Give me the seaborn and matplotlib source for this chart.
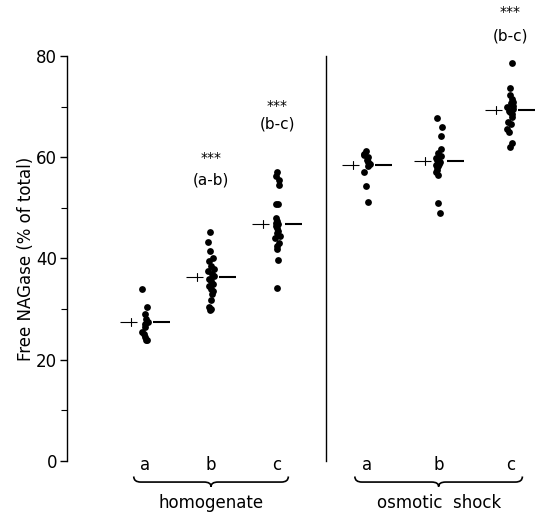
import numpy as np
import pandas as pd
import matplotlib
matplotlib.use("Agg")
import matplotlib.pyplot as plt
import seaborn as sns
from matplotlib.path import Path
from matplotlib.patches import PathPatch
from matplotlib.ticker import MultipleLocator

# Free NAGase (% of total) for each preparation
homog_a = [34.0, 30.5, 29.0, 28.0, 27.5, 27.0, 26.5, 25.5, 25.0, 24.5, 24.0, 24.0]
homog_b = [45.3, 43.2, 41.5, 40.0, 39.5, 38.5, 38.0, 37.5, 37.0, 36.5, 36.0,
           35.5, 35.0, 34.5, 34.0, 33.5, 33.0, 31.8, 30.5, 30.0, 29.8]
homog_c = [57.0, 56.3, 55.5, 54.5, 50.7, 50.7, 48.0, 47.5, 47.0, 46.8, 46.5,
           46.0, 45.5, 45.0, 44.5, 44.0, 43.0, 42.5, 41.8, 39.7, 34.2]
osm_a = [61.3, 60.6, 60.4, 60.0, 59.5, 59.0, 58.7, 58.2, 57.0, 54.3, 51.2]
osm_b = [67.8, 66.0, 64.2, 61.7, 60.8, 60.2, 59.8, 59.5, 59.2, 59.0, 58.7,
         58.5, 58.2, 58.0, 57.5, 57.0, 56.5, 51.0, 49.0]
osm_c = [78.6, 73.7, 72.3, 71.5, 71.0, 70.8, 70.5, 70.2, 70.0, 69.5, 69.2,
         69.0, 68.5, 68.0, 67.0, 66.5, 65.5, 65.0, 62.8, 62.0]

conditions = ["a", "b", "c"]
methods = ["homogenate", "osmotic  shock"]
group_means = {"homogenate": [27.5, 36.4, 46.8],
               "osmotic  shock": [58.5, 59.2, 69.3]}
# significance marks: (method, condition, comparison, height of stars, height of label)
signif = [("homogenate", "b", "(a-b)", 59.9, 55.5),
          ("homogenate", "c", "(b-c)", 70.2, 66.6),
          ("osmotic  shock", "c", "(b-c)", 88.7, 84.0)]

values = {"homogenate": [homog_a, homog_b, homog_c],
          "osmotic  shock": [osm_a, osm_b, osm_c]}
rows = []
for m in methods:
    for cond, vals in zip(conditions, values[m]):
        for v in vals:
            rows.append({"method": m, "condition": cond, "free": v})
df = pd.DataFrame(rows)

sns.set_theme(style="ticks")
plt.rcParams["font.family"] = ["DejaVu Sans"]
for key in ["text.color", "axes.labelcolor", "xtick.color", "ytick.color",
            "axes.edgecolor"]:
    plt.rcParams[key] = "black"

np.random.seed(7)

W, H = 536, 516
fig = plt.figure(figsize=(W / 100, H / 100), dpi=100)
ylo, yhi = -1.0, 81.0
bottom, height = 0.0967, 0.8047
ax_l = fig.add_axes([67 / W, bottom, 259 / W, height])
ax_r = fig.add_axes([326 / W, bottom, 210 / W, height])
xlims = {"homogenate": (-1.18, 2.74), "osmotic  shock": (-0.573, 2.36)}
axes = {"homogenate": ax_l, "osmotic  shock": ax_r}
widths_px = {"homogenate": 259, "osmotic  shock": 210}

for m in methods:
    ax = axes[m]
    sub = df[df["method"] == m]
    sns.stripplot(data=sub, x="condition", y="free", order=conditions, ax=ax,
                  color="black", size=4.9, linewidth=0, jitter=0.045)
    ax.set_xlim(*xlims[m])
    ax.set_ylim(ylo, yhi)
    x_unit_px = widths_px[m] / (xlims[m][1] - xlims[m][0])
    px = 1.0 / x_unit_px

    # mean line with a short cross bar on its left side
    for i, mu in enumerate(group_means[m]):
        ax.plot([i - 25 * px, i - 8 * px], [mu, mu], color="black", lw=0.8,
                solid_capstyle="butt")
        ax.plot([i - 14 * px, i - 14 * px], [mu - 0.8, mu + 0.8], color="black",
                lw=0.8)
        ax.plot([i + 8 * px, i + 25 * px], [mu, mu], color="black", lw=1.5,
                solid_capstyle="butt")

    # brace under the three conditions
    x0, x1, xm = -0.17, 2.17, 1.0
    yb, hh, dd = -4.15, 1.1, 0.9
    r = 7 * px
    verts = [(x0, yb + hh), (x0, yb), (x0 + r, yb),
             (xm - r, yb), (xm, yb), (xm, yb - dd),
             (xm, yb), (xm + r, yb),
             (x1 - r, yb), (x1, yb), (x1, yb + hh)]
    codes = [Path.MOVETO, Path.CURVE3, Path.CURVE3,
             Path.LINETO, Path.CURVE3, Path.CURVE3,
             Path.CURVE3, Path.CURVE3,
             Path.LINETO, Path.CURVE3, Path.CURVE3]
    ax.add_patch(PathPatch(Path(verts, codes), facecolor="none", edgecolor="black",
                           lw=1.2, clip_on=False, transform=ax.transData))
    ax.text(xm, -8.3, m, ha="center", va="center", fontsize=12, clip_on=False)

    ax.set_xlabel("")
    ax.tick_params(axis="x", length=0, pad=-7, labelsize=12)
    for s in ["top", "right", "bottom"]:
        ax.spines[s].set_visible(False)
    ax.spines["left"].set_bounds(0, 80)
    ax.spines["left"].set_linewidth(1.0)
    ax.patch.set_alpha(0)

for m, cond, lab, ys, yl in signif:
    ax = axes[m]
    i = conditions.index(cond)
    ax.text(i, ys, "***", ha="center", va="center", fontsize=10, clip_on=False)
    ax.text(i, yl, lab, ha="center", va="center", fontsize=11, clip_on=False)

ax_l.yaxis.set_major_locator(MultipleLocator(20))
ax_l.yaxis.set_minor_locator(MultipleLocator(10))
ax_l.tick_params(axis="y", which="major", length=5, width=1.0, pad=2, labelsize=12)
ax_l.tick_params(axis="y", which="minor", length=4, width=0.8)
ax_l.set_ylabel("Free NAGase (% of total)", fontsize=12, labelpad=1)

ax_r.set_ylabel("")
ax_r.tick_params(axis="y", which="both", left=False, labelleft=False)

fig.savefig("out.png", dpi=100)
